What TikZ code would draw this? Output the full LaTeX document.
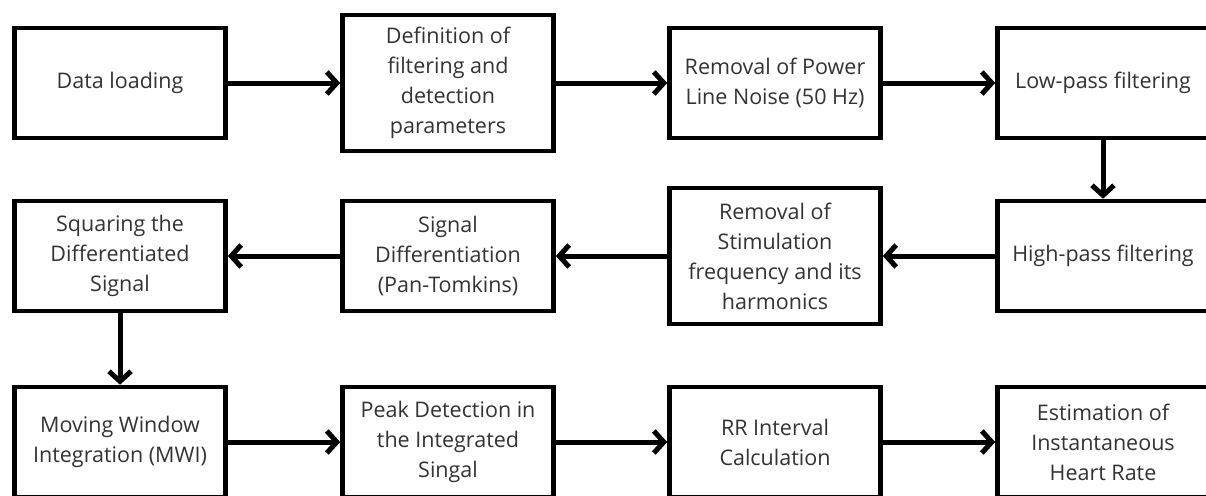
\documentclass[tikz,border=0pt]{standalone}
\usepackage{fontspec}
\setmainfont{Open Sans}
\usetikzlibrary{arrows.meta}
\definecolor{ink}{HTML}{333333}
\begin{document}
\begin{tikzpicture}[x=1pt,y=-1pt,
  stage/.style={draw=black, line width=4.6pt, fill=white, minimum width=211pt,
    minimum height=110pt, align=center, inner sep=0pt, text=ink,
    font=\fontsize{21.5}{30}\selectfont},
  tall/.style={minimum height=136pt},
  flow/.style={draw=black, line width=5pt,
    -{Straight Barb[length=10pt,width=22pt]}}]
\useasboundingbox (0,0) rectangle (1206,495);
\clip (0,0) rectangle (1206,495);

% first row: left to right
\node[stage] (load) at (120,83) {Data loading};
\node[stage,tall] (params) at (448,83) {Definition of\\filtering and\\detection\\parameters};
\node[stage] (mains) at (775,83) {Removal of Power\\Line Noise (50 Hz)};
\node[stage] (lowpass) at (1103,83) {Low-pass filtering};

% second row: right to left
\node[stage] (highpass) at (1103,256) {High-pass filtering};
\node[stage,tall] (stim) at (775,256) {Removal of\\Stimulation\\frequency and its\\harmonics};
\node[stage] (diff) at (448,256) {Signal\\Differentiation\\(Pan-Tomkins)};
\node[stage] (square) at (120,256) {Squaring the\\Differentiated\\Signal};

% third row: left to right
\node[stage] (mwi) at (120,442) {Moving Window\\Integration (MWI)};
\node[stage] (peaks) at (448,442) {Peak Detection in\\the Integrated\\Singal};
\node[stage] (rr) at (775,442) {RR Interval\\Calculation};
\node[stage] (hr) at (1103,442) {Estimation of\\Instantaneous\\Heart Rate};

% connectors
\draw[flow] (load.east) -- (params.west);
\draw[flow] (params.east) -- (mains.west);
\draw[flow] (mains.east) -- (lowpass.west);
\draw[flow] (lowpass.south) -- (highpass.north);
\draw[flow] (highpass.west) -- (stim.east);
\draw[flow] (stim.west) -- (diff.east);
\draw[flow] (diff.west) -- (square.east);
\draw[flow] (square.south) -- (mwi.north);
\draw[flow] (mwi.east) -- (peaks.west);
\draw[flow] (peaks.east) -- (rr.west);
\draw[flow] (rr.east) -- (hr.west);
\end{tikzpicture}
\end{document}
